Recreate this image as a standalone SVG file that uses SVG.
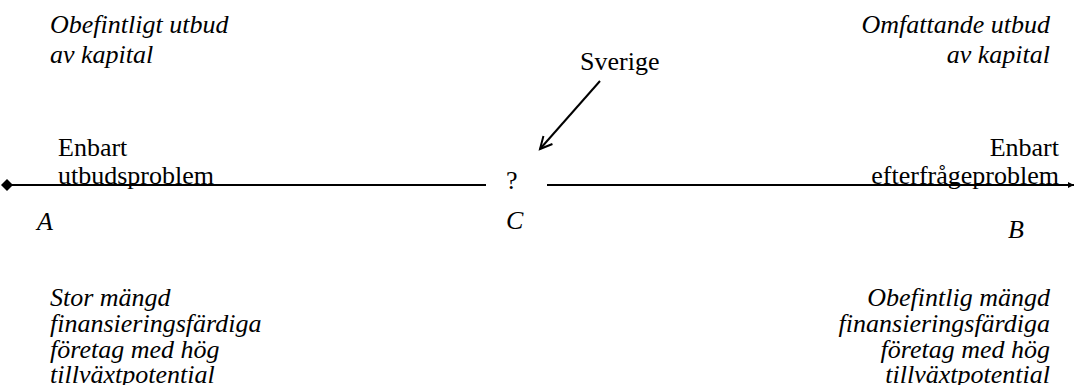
<svg xmlns="http://www.w3.org/2000/svg" width="1075" height="385" viewBox="0 0 1075 385">
<style>
text{font-family:'Liberation Serif','Times New Roman',serif;font-size:26px;fill:#000}
.it{font-style:italic}
.r{text-anchor:end}
.ln{stroke:#000;stroke-width:2;fill:none}
</style>
<defs>
<marker id="arr" markerWidth="16" markerHeight="16" refX="13" refY="8" orient="auto" markerUnits="userSpaceOnUse">
<path d="M1,2 L13,8 L1,14" fill="none" stroke="#000" stroke-width="2"/>
</marker>
<marker id="dia" markerWidth="16" markerHeight="16" refX="8" refY="8" orient="auto" markerUnits="userSpaceOnUse">
<path d="M2,8 L8,2 L14,8 L8,14 Z" fill="#000"/>
</marker>
<marker id="tip" markerWidth="8" markerHeight="8" refX="6" refY="4" orient="auto" markerUnits="userSpaceOnUse">
<path d="M0,1 L6,4 L0,7 Z" fill="#000"/>
</marker>
</defs>
<rect width="1075" height="385" fill="#fff"/>
<g id="connectors">
<line class="ln" x1="7" y1="185" x2="486" y2="185" marker-start="url(#dia)"/>
<line class="ln" x1="547" y1="185" x2="1074" y2="185" marker-end="url(#tip)"/>
<line class="ln" x1="600" y1="81" x2="540" y2="149" marker-end="url(#arr)"/>
</g>
<g id="top-left">
<text class="it" x="50" y="33">Obefintligt utbud</text>
<text class="it" x="50" y="63">av kapital</text>
</g>
<g id="top-right">
<text class="it r" x="1050" y="33">Omfattande utbud</text>
<text class="it r" x="1050" y="63">av kapital</text>
</g>
<g id="sverige">
<text x="580" y="70">Sverige</text>
</g>
<g id="node-A">
<text x="58" y="156">Enbart</text>
<text x="58" y="184">utbudsproblem</text>
<text class="it" x="37" y="230">A</text>
</g>
<g id="node-C">
<text x="506" y="189">?</text>
<text class="it" x="506" y="229">C</text>
</g>
<g id="node-B">
<text class="r" x="1059" y="156">Enbart</text>
<text class="r" x="1059" y="184">efterfrågeproblem</text>
<text class="it" x="1008" y="238">B</text>
</g>
<g id="bottom-left">
<text class="it" x="50" y="306">Stor mängd</text>
<text class="it" x="50" y="332">finansieringsfärdiga</text>
<text class="it" x="50" y="358">företag med hög</text>
<text class="it" x="50" y="383">tillväxtpotential</text>
</g>
<g id="bottom-right">
<text class="it r" x="1050" y="306">Obefintlig mängd</text>
<text class="it r" x="1050" y="332">finansieringsfärdiga</text>
<text class="it r" x="1050" y="358">företag med hög</text>
<text class="it r" x="1050" y="383">tillväxtpotential</text>
</g>
</svg>
